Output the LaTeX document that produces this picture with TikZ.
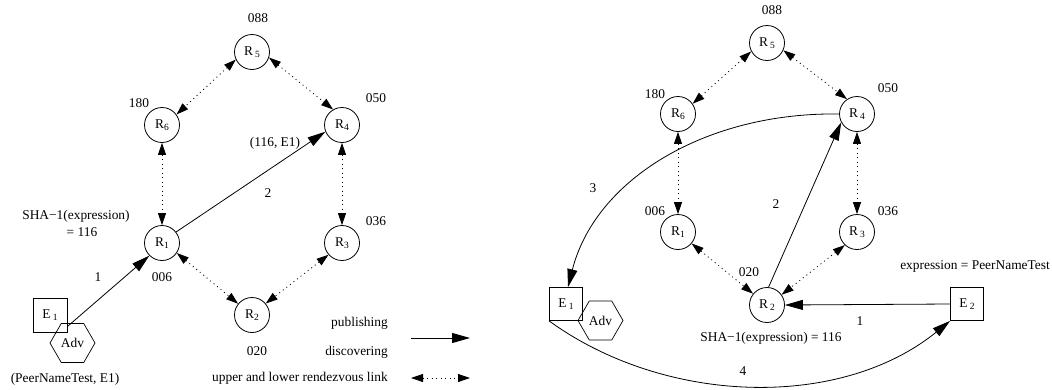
\documentclass[tikz,border=0pt]{standalone}
\usepackage{fontspec}
\setmainfont{Liberation Serif}
\usetikzlibrary{arrows.meta,shapes.geometric}
\newcommand\sbx[1]{\raisebox{-2.5pt}{\fontsize{9.5}{10}\selectfont #1}}
\begin{document}
\begin{tikzpicture}[x=1pt,y=-1pt,
  every node/.style={font=\fontsize{13.4}{16}\selectfont},
  rnode/.style={circle, draw, minimum size=35pt, inner sep=0pt, line width=0.8pt},
  ebox/.style={rectangle, draw, minimum size=33pt, inner sep=0pt, line width=0.8pt},
  hexa/.style={regular polygon, regular polygon sides=6, draw, minimum size=45pt, inner sep=0pt, line width=0.7pt},
  lbl/.style={inner sep=0pt},
  pub/.style={-{Triangle[length=18pt,width=10pt]}, line width=0.8pt},
  rdv/.style={{Triangle[length=12pt,width=8pt]}-{Triangle[length=12pt,width=8pt]}, dash pattern=on 1pt off 3.5pt, line width=0.8pt}]
\useasboundingbox (0,0) rectangle (1052,389);

% ---------------- left diagram ----------------
\node[rnode] (R5a) at (252,52) {R\,\sbx{5}};
\node[rnode] (R6a) at (162,125) {R\sbx{6}};
\node[rnode] (R4a) at (342,125) {R\sbx{4}};
\node[rnode] (R1a) at (162,243) {R\sbx{1}};
\node[rnode] (R3a) at (342,243) {R\sbx{3}};
\node[rnode] (R2a) at (252,315) {R\sbx{2}};

\node[lbl] (n088a) at (258,18) {088};
\node[lbl] (n180a) at (139,103) {180};
\node[lbl] (n050a) at (376,98) {050};
\node[lbl] (n036a) at (376,221) {036};
\node[lbl] (n006a) at (162,277) {006};
\node[lbl] (n020a) at (257,351) {020};

\node[ebox, minimum size=34pt] (E1a) at (50,315) {E\,\sbx{1}};
\node[hexa] (Adva) at (72.5,343) {Adv};

\node[lbl] (sha1) at (76,216) {SHA−1(expression)};
\node[lbl] (sha2) at (82,232) {= 116};
\node[lbl] (pnt) at (65,379) {(PeerNameTest, E1)};
\node[lbl] (t116) at (275,143) {(116, E1)};
\node[lbl] (la2) at (268,193) {2};
\node[lbl] (la1) at (98,277) {1};

\draw[rdv] (R5a.205) -- (R6a.36);
\draw[rdv] (R5a.342) -- (R4a.120);
\draw[rdv] (R6a.270) -- (R1a.90);
\draw[rdv] (R4a.270) -- (R3a.90);
\draw[rdv] (R1a.326) -- (R2a.141);
\draw[rdv] (R3a.221) -- (R2a.40);

\coordinate (s1) at (68,326);
\draw[pub] (s1) -- (R1a.225);
\draw[pub] (R1a.38) -- (R4a.202);

% legend
\node[lbl, anchor=east] (lgp) at (388,323) {publishing};
\node[lbl, anchor=east] (lgd) at (388,352) {discovering};
\node[lbl, anchor=east] (lgr) at (388,378) {upper and lower rendezvous link};
\coordinate (pa) at (411,338);
\coordinate (pb) at (470,338);
\coordinate (ra) at (411,378);
\coordinate (rb) at (470,378);
\draw[pub] (pa) -- (pb);
\draw[rdv] (ra) -- (rb);

% ---------------- right diagram ----------------
\node[rnode] (R5b) at (767,43) {R\,\sbx{5}};
\node[rnode] (R6b) at (678,114) {R\sbx{6}};
\node[rnode] (R4b) at (857,114) {R\,\sbx{4}};
\node[rnode] (R1b) at (678,232) {R\sbx{1}};
\node[rnode] (R3b) at (857,232) {R\,\sbx{3}};
\node[rnode] (R2b) at (767,305) {R\,\sbx{2}};

\node[lbl] (n088b) at (772,10) {088};
\node[lbl] (n180b) at (655,94) {180};
\node[lbl] (n050b) at (888,88) {050};
\node[lbl] (n006b) at (655,211) {006};
\node[lbl] (n036b) at (888,211) {036};
\node[lbl] (n020b) at (749,272) {020};

\node[ebox] (E1b) at (566,304) {E\,\sbx{1}};
\node[hexa] (Advb) at (600.5,320.5) {Adv};
\node[ebox] (E2b) at (967,304) {E\,\sbx{2}};

\node[lbl] (expr) at (975,266) {expression = PeerNameTest};
\node[lbl] (shab) at (771,338) {SHA−1(expression) = 116};
\node[lbl] (lb1) at (860,321) {1};
\node[lbl] (lb2) at (776,204) {2};
\node[lbl] (lb3) at (593,188) {3};
\node[lbl] (lb4) at (743,371) {4};

\draw[rdv] (R5b.208) -- (R6b.35);
\draw[rdv] (R5b.336) -- (R4b.124);
\draw[rdv] (R6b.270) -- (R1b.90);
\draw[rdv] (R4b.270) -- (R3b.90);
\draw[rdv] (R1b.320) -- (R2b.141);
\draw[rdv] (R3b.227) -- (R2b.35);

\draw[pub] (E2b.west) -- (R2b.east);
\draw[pub] (R2b.85) -- (R4b.208);
\draw[pub] (R4b.west) .. controls (705,112) and (595,180) .. ([xshift=2pt]E1b.north);
\draw[pub] (E1b.south west) .. controls (665,405) and (840,410) .. (E2b.south west);
\end{tikzpicture}
\end{document}
